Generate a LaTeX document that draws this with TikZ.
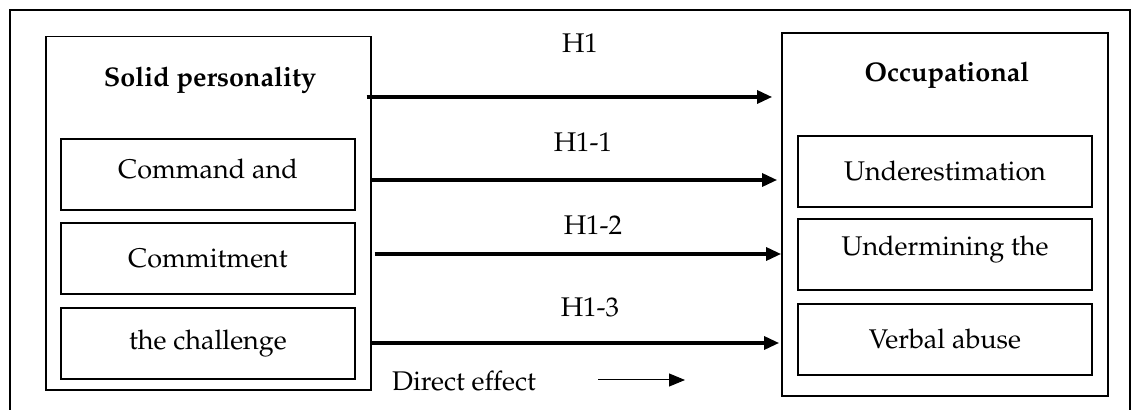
\documentclass[tikz,border=0pt]{standalone}
\usepackage[T1]{fontenc}
\usepackage{mathpazo}
\usepackage{tikz}
\usepackage{xcolor}
\usetikzlibrary{arrows.meta}

\tikzset{
    txt/.style={font=\fontsize{13.5}{16}\selectfont},
    title/.style={font=\fontsize{13.5}{16}\selectfont\bfseries},
    bigbox/.style={draw, line width=0.9pt, inner sep=0pt, minimum width=163pt},
    subbox/.style={draw, line width=0.9pt, txt, inner sep=0pt,
        minimum width=147pt, minimum height=35.5pt},
    hyp/.style={line width=1.6pt, -{Triangle[length=7.5pt,width=6.5pt]}}
}

\begin{document}
\begin{tikzpicture}[x=0.5pt, y=-0.5pt]
\useasboundingbox (0,0) rectangle (1138,410);
\draw[line width=0.9pt] (10,430) -- (10,10) -- (1130,10) -- (1130,430); % marco abierto abajo

% variable independiente
\node[bigbox, minimum width=162.5pt, minimum height=176.7pt] (sp) at (208.2,213.3) {};
\node[title] (spt) at (210,80) {Solid personality};
\node[subbox, text depth=6pt] (cc) at (208,174.5) {Command and};
\node[subbox] (cm) at (208,258.5) {Commitment};
\node[subbox] (ch) at (208,343.5) {the challenge};

% variable dependiente
\node[bigbox, minimum height=181.5pt] (ob) at (945,214.5) {};
\node[title] (obt) at (947,75) {Occupational};
\node[subbox] (ue) at (945,171.5) {Underestimation};
\node[subbox, text depth=9pt] (um) at (945,254.5) {Undermining the};
\node[subbox] (va) at (945,339.5) {Verbal abuse};

% hipótesis
\draw[hyp] ([xshift=-2.5pt]sp.east |- 0,97) -- ([xshift=-4.5pt]ob.west |- 0,97);
\draw[hyp] (sp.east |- 0,180) -- ([xshift=-2pt]ob.west |- 0,180);
\draw[hyp] ([xshift=1.5pt]sp.east |- 0,254) -- (ob.west |- 0,254);
\draw[hyp] (sp.east |- 0,343) -- ([xshift=-1pt]ob.west |- 0,343);
\node[txt] (h1)  at (580,43)  {H1};
\node[txt] (h11) at (583,142) {H1-1};
\node[txt] (h12) at (593,225) {H1-2};
\node[txt] (h13) at (590,307) {H1-3};

% leyenda
\node[txt] (de) at (464,381) {Direct effect};
\coordinate (l1) at (598,380);
\coordinate (l2) at (685,380);
\draw[line width=0.5pt, -{Triangle[length=8pt,width=6.5pt]}] (l1) -- (l2);
\end{tikzpicture}
\end{document}
